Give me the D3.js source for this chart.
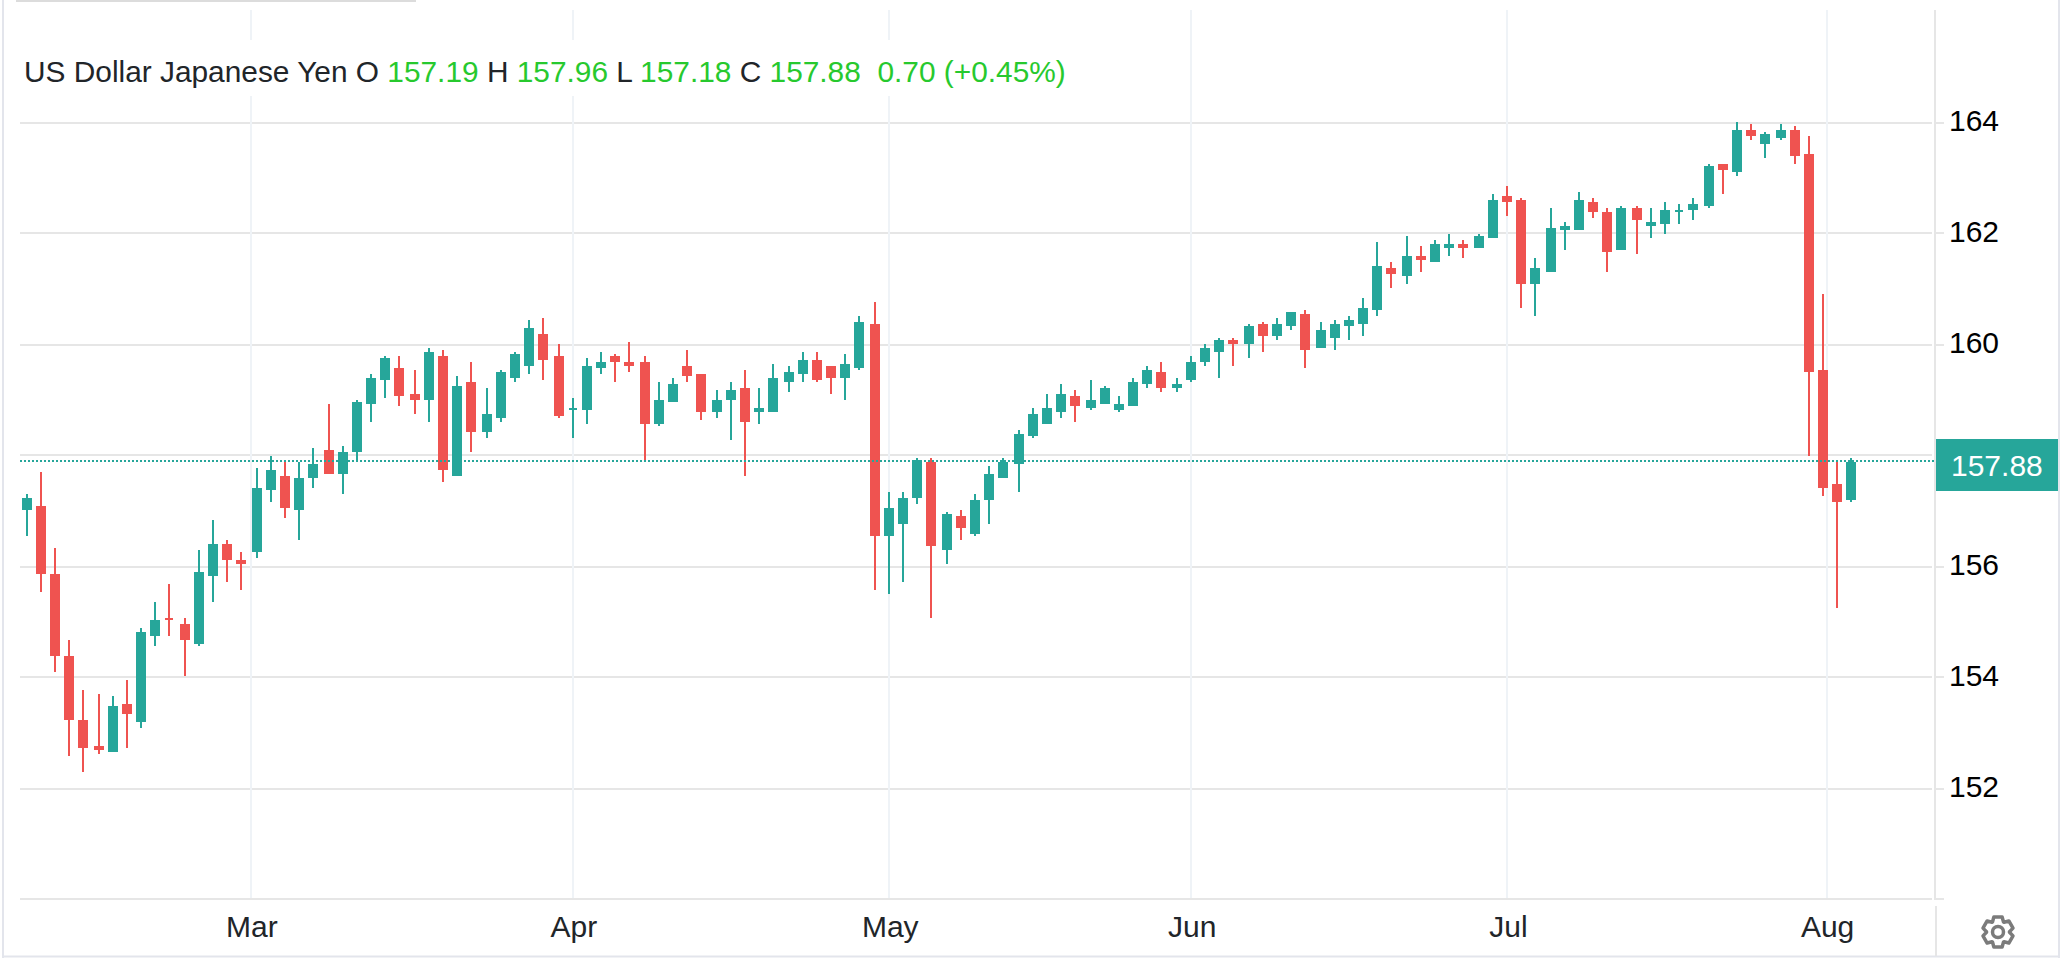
<!DOCTYPE html>
<html lang="en">
<head>
<meta charset="utf-8">
<title>US Dollar Japanese Yen</title>
<script src="https://cdn.jsdelivr.net/npm/d3@7"></script>
<style>
html, body { margin: 0; padding: 0; background: #fff; overflow: hidden; }
svg { display: block; }
text { font-family: "Liberation Sans", Arial, sans-serif; font-size: 30px; }
</style>
</head>
<body>
<script>
var opens = [
157.02,157.09,155.87,154.39,153.23,152.77,152.66,153.52,153.20,154.75,
155.07,154.96,154.60,155.83,156.40,156.12,156.26,157.38,157.63,157.02,
157.59,158.10,157.67,158.06,158.93,159.36,159.58,159.11,159.00,159.79,
157.63,159.33,158.42,158.68,159.40,159.61,160.19,159.79,158.82,158.82,
159.58,159.79,159.69,159.69,158.57,158.96,159.61,159.47,158.78,159.00,
159.22,158.78,158.78,159.32,159.47,159.72,159.61,159.40,159.58,160.37,
156.55,156.77,157.23,157.88,156.30,156.91,156.59,157.20,157.59,157.85,
158.35,158.57,158.78,159.07,158.86,158.93,158.82,158.89,159.29,159.50,
159.22,159.36,159.68,159.87,160.08,160.01,160.37,160.15,160.33,160.55,
159.94,160.12,160.33,160.37,160.62,161.38,161.23,161.59,161.49,161.74,
161.81,161.74,161.92,162.68,162.60,161.09,161.31,162.06,162.06,162.57,
162.39,161.70,162.46,162.13,162.17,162.39,162.42,162.50,163.25,163.11,
163.86,163.61,163.72,163.86,163.43,159.54,157.49,157.19]

var highs = [
157.31,157.70,156.33,154.68,153.77,153.70,153.67,153.95,154.89,155.36,
155.69,155.07,156.30,156.84,156.48,156.26,157.77,157.99,157.88,157.88,
158.13,158.93,158.17,159.00,159.47,159.79,159.79,159.54,159.94,159.90,
159.43,159.69,159.22,159.54,159.87,160.44,160.48,160.01,159.04,159.76,
159.87,159.83,160.05,159.79,159.32,159.40,159.90,159.47,159.18,159.32,
159.54,159.22,159.65,159.61,159.87,159.87,159.61,159.83,160.51,160.77,
157.34,157.34,157.95,157.95,156.98,157.02,157.31,157.81,157.95,158.46,
158.86,159.11,159.29,159.18,159.36,159.25,159.07,159.40,159.61,159.68,
159.40,159.79,160.01,160.12,160.12,160.37,160.41,160.48,160.58,160.62,
160.40,160.44,160.51,160.84,161.85,161.49,161.95,161.77,161.88,161.99,
161.88,161.99,162.71,162.86,162.64,161.56,162.46,162.21,162.75,162.64,
162.46,162.50,162.50,162.46,162.57,162.53,162.64,163.25,163.25,164.01,
163.97,163.83,163.97,163.94,163.76,160.91,157.88,157.96]

var lows = [
156.55,155.54,154.10,152.59,152.30,152.62,152.66,152.73,153.09,154.57,
154.75,154.03,154.57,155.36,155.72,155.58,156.15,157.16,156.87,156.48,
157.41,157.67,157.31,157.88,158.60,159.04,158.89,158.75,158.60,157.52,
157.63,158.06,158.32,158.60,159.33,159.47,159.36,158.68,158.32,158.57,
159.47,159.33,159.50,157.91,158.53,158.96,159.32,158.64,158.68,158.28,
157.63,158.57,158.78,159.14,159.32,159.32,159.11,159.00,159.54,155.58,
155.50,155.72,157.13,155.07,156.05,156.48,156.55,156.77,157.59,157.34,
158.32,158.57,158.68,158.60,158.82,158.93,158.78,158.89,159.22,159.14,
159.14,159.32,159.61,159.40,159.61,159.76,159.87,160.08,160.26,159.58,
159.94,159.90,160.08,160.15,160.51,161.02,161.09,161.31,161.49,161.59,
161.56,161.74,161.92,162.31,160.66,160.51,161.31,161.70,162.06,162.28,
161.31,161.70,161.63,161.92,161.99,162.17,162.24,162.46,162.71,163.04,
163.68,163.36,163.68,163.25,157.99,157.27,155.25,157.18]

var closes = [
157.24,155.87,154.39,153.23,152.73,152.69,153.49,153.34,154.82,155.04,
155.04,154.67,155.90,156.40,156.12,156.04,157.41,157.74,157.05,157.59,
157.85,157.67,158.06,158.96,159.40,159.76,159.07,159.00,159.87,157.74,
159.25,158.42,158.75,159.50,159.83,160.30,159.72,158.71,158.86,159.61,
159.69,159.69,159.61,158.57,159.00,159.29,159.43,158.78,159.00,159.18,
158.60,158.86,159.40,159.50,159.72,159.36,159.40,159.65,160.41,156.55,
157.05,157.23,157.92,156.37,156.95,156.69,157.20,157.67,157.88,158.39,
158.75,158.86,159.11,158.89,159.00,159.22,158.93,159.32,159.54,159.22,
159.29,159.68,159.94,160.08,160.01,160.33,160.15,160.37,160.58,159.90,
160.26,160.37,160.44,160.66,161.41,161.27,161.59,161.52,161.81,161.81,
161.74,161.95,162.60,162.57,161.09,161.38,162.10,162.14,162.60,162.39,
161.67,162.46,162.24,162.21,162.42,162.42,162.53,163.22,163.14,163.86,
163.76,163.79,163.86,163.40,159.50,157.41,157.16,157.88]

var gridPrices = [164,162,160,158,156,154,152,150]
var labelPrices = [164,162,160,156,154,152]	// 158 is hidden behind the price tag
var monthLabels = ["Mar","Apr","May","Jun","Jul","Aug"]
var monthSlots = [15.6,38,60,81,103,125.2]	// candle slot where each month starts

var up = "#26a69a", down = "#ef5350", hGrid = "#e6e6e6", vGrid = "#eff3f7", edge = "#e3e5ec"
var textDark = "#212529", legendGreen = "#27c92e"

var w = 2060, h = 958
var plotLeft = 20, plotRight = 1932, axisX = 1936, plotTop = 10

var svg = d3.select("body").append("svg").attr("width", w).attr("height", h)

var x = d3.scaleLinear().domain([0, opens.length-1]).range([27.13, 1852.98])
var y = d3.scaleLinear().domain([150, 164]).range([899.5, 122.5])

// the source draws on a 2px device grid, keep marks on it
function snapX(v){ return Math.floor((v-1)/2)*2+1 }
function snapY(v){ return Math.round(v/2)*2 }
function floorY(v){ return Math.floor(v/2)*2 }

function box(x0, y0, bw, bh, fill, g){
	return (g||svg).append("rect").attr("x",x0).attr("y",y0).attr("width",bw).attr("height",bh).attr("fill",fill)
}

// outer frame
box(2, 0, 2, h, edge)
box(2, 955.5, w-2, 2, edge)
box(w-2, 0, 2, h, edge)
box(16, 0, 400, 2, "#dcdcdc")

// horizontal grid
svg.selectAll(".hgrid")
	.data(gridPrices)
	.enter().append("rect")
	.attr("class","hgrid")
	.attr("x",plotLeft)
	.attr("y",function(d){ return floorY(y(d)) })
	.attr("width",plotRight-plotLeft)
	.attr("height",2)
	.attr("fill",hGrid)

// vertical grid
svg.selectAll(".vgrid")
	.data(monthSlots)
	.enter().append("rect")
	.attr("class","vgrid")
	.attr("x",function(d){ return snapX(x(d))-1 })
	.attr("y",plotTop)
	.attr("width",2)
	.attr("height",floorY(y(150))-plotTop)
	.attr("fill",vGrid)

// right axis frame
box(axisX-2, plotTop, 2, floorY(y(150))+2-plotTop, hGrid)
box(axisX-1, 906, 2, 50, hGrid)
box(axisX, floorY(y(150)), 8, 2, hGrid)

var yAxis = d3.axisRight(y).tickValues(labelPrices).tickSize(8).tickPadding(5).tickFormat(d3.format("d"))
var yG = svg.append("g").attr("transform","translate("+axisX+",0)").call(yAxis)
yG.select(".domain").remove()
yG.selectAll(".tick").attr("transform",function(d){ return "translate(0,"+(floorY(y(d))+1)+")" })
yG.selectAll(".tick line").attr("stroke",hGrid).attr("stroke-width",2)
yG.selectAll(".tick text")
	.attr("fill","#000").attr("dy",null)
	.attr("y",function(d){ return y(d)+8-(floorY(y(d))+1) })
	.attr("font-size",null).style("font-size","30px").style("font-family",'"Liberation Sans"')

var xTicks = d3.scaleOrdinal().domain(monthSlots).range(monthLabels)
var xAxis = d3.axisBottom(x).tickValues(monthSlots).tickSize(0).tickFormat(function(d){ return xTicks(d) })
var xG = svg.append("g").attr("transform","translate(0,911)").call(xAxis)
xG.select(".domain").remove()
xG.selectAll(".tick text")
	.attr("fill",textDark).attr("dy",null).attr("y",26)
	.attr("font-size",null).style("font-size","30px").style("font-family",'"Liberation Sans"')

// candles
var candles = svg.append("g")
var idx = d3.range(opens.length)
function color(i){ return closes[i]>=opens[i] ? up : down }

candles.selectAll(".wick")
	.data(idx)
	.enter().append("rect")
	.attr("class","wick")
	.attr("x",function(i){ return snapX(x(i))-1 })
	.attr("y",function(i){ return snapY(y(highs[i])) })
	.attr("width",2)
	.attr("height",function(i){ return snapY(y(lows[i]))-snapY(y(highs[i])) })
	.attr("fill",color)

function bodyTop(i){ return snapY(y(Math.max(opens[i],closes[i]))) }
function bodyBottom(i){ return snapY(y(Math.min(opens[i],closes[i]))) }
function bodyH(i){ return Math.max(2, bodyBottom(i)-bodyTop(i)) }

candles.selectAll(".body")
	.data(idx)
	.enter().append("rect")
	.attr("class","body")
	.attr("x",function(i){ return snapX(x(i))-(bodyH(i)<=2 ? 4 : 5) })
	.attr("y",bodyTop)
	.attr("width",function(i){ return bodyH(i)<=2 ? 8 : 10 })
	.attr("height",bodyH)
	.attr("fill",color)

// last price line and tag
var lastClose = closes[closes.length-1]
var lastY = floorY(y(lastClose)-1)
svg.append("line")
	.attr("x1",plotLeft).attr("x2",axisX)
	.attr("y1",lastY+1).attr("y2",lastY+1)
	.attr("stroke",up).attr("stroke-width",2).attr("stroke-dasharray","2 2")

box(axisX, 439, 122, 52, up)
svg.append("text").attr("x",1951).attr("y",476).attr("fill","#fff").text(d3.format(".2f")(lastClose))

// legend, it sits on a white box that hides the month lines
box(plotLeft, 40, 1060, 56, "#fff")
var legend = svg.append("text").attr("x",24).attr("y",82).attr("xml:space","preserve").style("font-size","29.85px")
var legendParts = [
	["US Dollar Japanese Yen O ",textDark],["157.19",legendGreen],
	[" H ",textDark],["157.96",legendGreen],
	[" L ",textDark],["157.18",legendGreen],
	[" C ",textDark],["157.88",legendGreen],
	["  0.70 (+0.45%)",legendGreen]
]
legend.selectAll("tspan").data(legendParts).enter().append("tspan")
	.attr("fill",function(d){ return d[1] })
	.text(function(d){ return d[0] })

// settings gear
var gearPts = []
d3.range(6).forEach(function(t){
	var a = t*Math.PI/3
	gearPts.push([a-0.5,11.5],[a-0.27,15.5],[a+0.27,15.5],[a+0.5,11.5])
})
var gear = svg.append("g").attr("transform","translate(1998,932)")
gear.append("path")
	.attr("d",d3.lineRadial().curve(d3.curveLinearClosed)(gearPts))
	.attr("fill","none").attr("stroke","#7b7b7b").attr("stroke-width",3.5).attr("stroke-linejoin","round")
gear.append("circle").attr("r",5.5).attr("fill","none").attr("stroke","#7b7b7b").attr("stroke-width",3.5)
</script>
</body>
</html>
